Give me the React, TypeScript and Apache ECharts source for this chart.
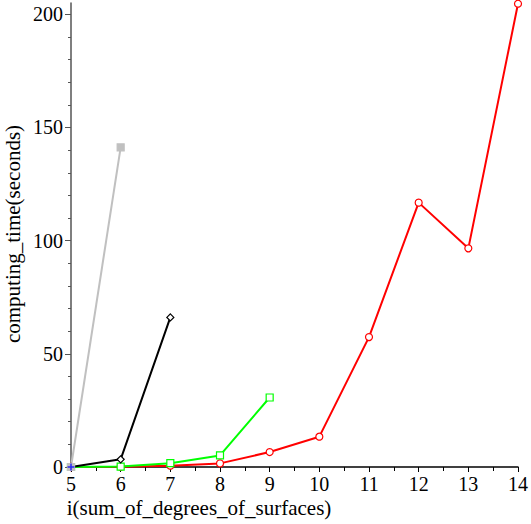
import React, { useEffect, useRef } from "react";
import * as echarts from "echarts";

const xValues = [5, 6, 7, 8, 9, 10, 11, 12, 13, 14];
const redTimes = [0, 0.1, 0.6, 1.6, 6.6, 13.4, 57.4, 116.8, 96.6, 204.7];
const greenTimes = [0, 0.2, 1.7, 5.1, 30.7];
const blackTimes = [0, 3.4, 66.1];
const grayTimes = [0, 141.2];
const blueTimes = [0];
const yMajorTicks = [0, 50, 100, 150, 200];
const yMinorTicks = [10, 20, 30, 40, 60, 70, 80, 90, 110, 120, 130, 140, 160, 170, 180, 190];

const font = "'Liberation Serif', 'Times New Roman', serif";

function pairs(vals: number[]) {
  return vals.map((v, i) => [xValues[i], v]);
}

export default function App() {
  const ref = useRef<HTMLDivElement>(null);
  useEffect(() => {
    const chart = echarts.init(ref.current!, null, { renderer: "svg" });
    const mk = (name: string, data: number[], color: string, symbol: string, filled: boolean, width: number, size: number) => ({
      name,
      type: "line",
      data: pairs(data),
      symbol,
      symbolSize: size,
      showAllSymbol: true,
      lineStyle: { color, width },
      itemStyle: { color: filled ? color : "#fff", borderColor: color, borderWidth: 1.2 },
      emphasis: { disabled: true },
      z: 3,
    });
    chart.setOption({
      animation: false,
      grid: { left: 71, right: 8, top: 3, bottom: 57 },
      xAxis: {
        type: "value",
        min: 5,
        max: 14,
        interval: 1,
        axisLine: { show: true, onZero: false, lineStyle: { color: "#000", width: 1.5 } },
        axisTick: { show: true, length: 5, lineStyle: { color: "#000" } },
        minorTick: { show: true, splitNumber: 2, length: 4, lineStyle: { color: "#000" } },
        splitLine: { show: false },
        axisLabel: { color: "#000", fontFamily: font, fontSize: 20, margin: 7 },
      },
      yAxis: [
        {
          type: "value",
          min: 0,
          max: 205,
          axisLine: { show: true, onZero: false, lineStyle: { color: "#555", width: 1.5 } },
          axisTick: { show: true, length: 6, customValues: yMajorTicks, lineStyle: { color: "#555" } },
          axisLabel: { color: "#000", fontFamily: font, fontSize: 20, margin: 8, customValues: yMajorTicks },
          splitLine: { show: false },
        },
        {
          type: "value",
          min: 0,
          max: 205,
          position: "left",
          axisLine: { show: false },
          axisTick: { show: true, length: 3, customValues: yMinorTicks, lineStyle: { color: "#555" } },
          axisLabel: { show: false },
          splitLine: { show: false },
        },
      ],
      series: [
        mk("red", redTimes, "#ff0000", "circle", false, 2, 7),
        mk("green", greenTimes, "#00ff00", "rect", false, 2, 7),
        mk("black", blackTimes, "#000000", "diamond", false, 2, 7),
        mk("gray", grayTimes, "#c0c0c0", "rect", true, 2, 7),
        {
          name: "bluecross",
          type: "scatter",
          data: pairs(blueTimes),
          symbol: "path://M0,5H10M5,0V10",
          symbolSize: 7,
          itemStyle: { color: "none", borderColor: "#0000ff", borderWidth: 1.5 },
          z: 5,
        },
      ],
      graphic: [
        {
          type: "text",
          x: 199,
          y: 508,
          style: {
            text: "i(sum_of_degrees_of_surfaces)",
            fontFamily: font,
            fontSize: 21,
            fill: "#000",
            align: "center",
            verticalAlign: "middle",
          },
        },
        {
          type: "text",
          x: 13,
          y: 234,
          rotation: Math.PI / 2,
          style: {
            text: "computing_time(seconds)",
            fontFamily: font,
            fontSize: 21,
            fill: "#000",
            align: "center",
            verticalAlign: "middle",
          },
        },
      ],
    });
    return () => chart.dispose();
  }, []);
  return <div ref={ref} style={{ width: 531, height: 524, position: "absolute", left: 0, top: 0 }} />;
}
